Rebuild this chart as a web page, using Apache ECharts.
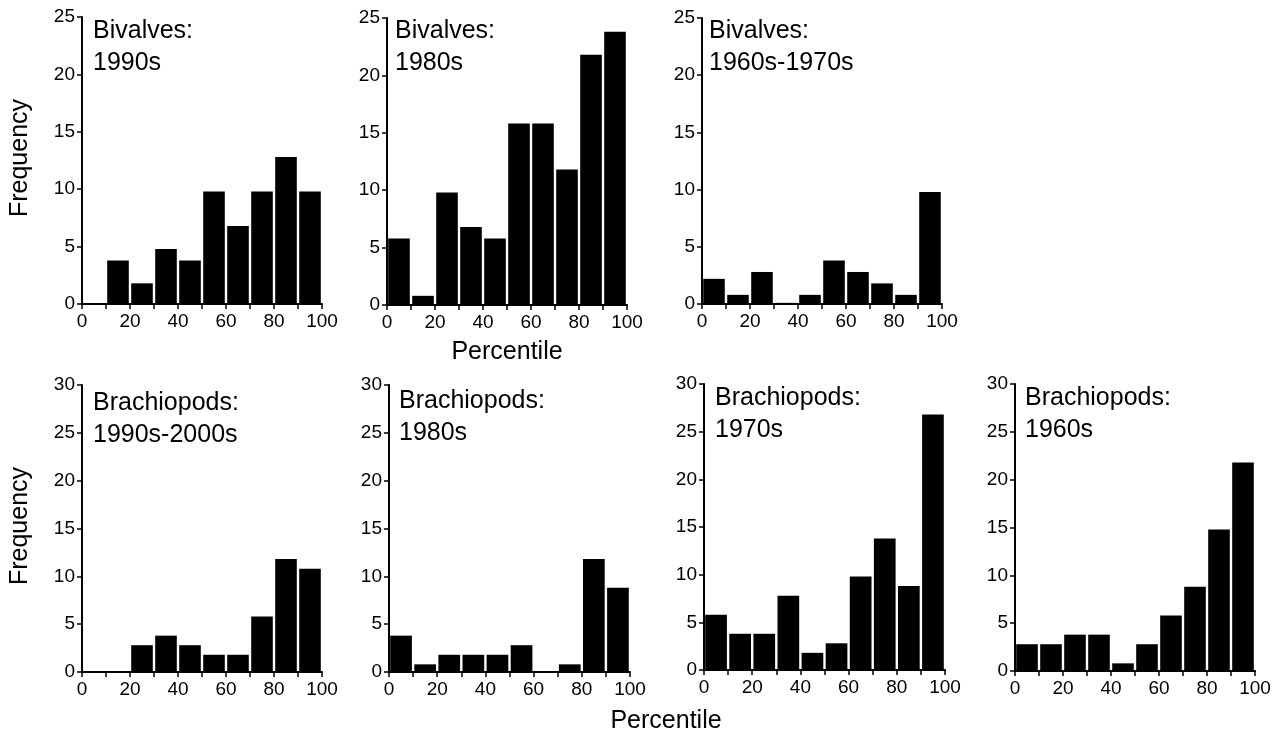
<!DOCTYPE html>
<html>
<head>
<meta charset="UTF-8">
<title>Percentile histograms</title>
<script src="https://cdn.jsdelivr.net/npm/echarts@6/dist/echarts.min.js"></script>
<style>
  html, body { margin: 0; padding: 0; background: #fff; }
</style>
</head>
<body>
<div id="main" style="width:1279px; height:738px;"></div>
<script type="text/javascript">
// bin edges (percentile), 10-wide bins
var binEdges = [0, 10, 20, 30, 40, 50, 60, 70, 80, 90, 100];

// frequencies per bin
var bivalves1990s    = [0, 3.8, 1.8, 4.8, 3.8, 9.8, 6.8, 9.8, 12.8, 9.8];
var bivalves1980s    = [5.8, 0.8, 9.8, 6.8, 5.8, 15.8, 15.8, 11.8, 21.8, 23.8];
var bivalves1960s70s = [2.2, 0.8, 2.8, 0.1, 0.8, 3.8, 2.8, 1.8, 0.8, 9.8];
var brach1990s2000s  = [0, 0, 2.8, 3.8, 2.8, 1.8, 1.8, 5.8, 11.8, 10.8];
var brach1980s       = [3.8, 0.8, 1.8, 1.8, 1.8, 2.8, 0.1, 0.8, 11.8, 8.8];
var brach1970s       = [5.8, 3.8, 3.8, 7.8, 1.8, 2.8, 9.8, 13.8, 8.8, 26.8];
var brach1960s       = [2.8, 2.8, 3.8, 3.8, 0.8, 2.8, 5.8, 8.8, 14.8, 21.8];

var panels = [
  { label: 'Bivalves:\n1990s',           vals: bivalves1990s,    ymax: 25, grid: [82, 17, 240, 287],   tx: 93,   ty: 15 },
  { label: 'Bivalves:\n1980s',           vals: bivalves1980s,    ymax: 25, grid: [387, 18, 240, 287],  tx: 395,  ty: 15 },
  { label: 'Bivalves:\n1960s-1970s',     vals: bivalves1960s70s, ymax: 25, grid: [702, 18, 240, 286],  tx: 709,  ty: 15 },
  { label: 'Brachiopods:\n1990s-2000s',  vals: brach1990s2000s,  ymax: 30, grid: [82, 385, 240, 287],  tx: 93,   ty: 387 },
  { label: 'Brachiopods:\n1980s',        vals: brach1980s,       ymax: 30, grid: [389, 385, 241, 287], tx: 399,  ty: 385 },
  { label: 'Brachiopods:\n1970s',        vals: brach1970s,       ymax: 30, grid: [704, 384, 241, 286], tx: 715,  ty: 382 },
  { label: 'Brachiopods:\n1960s',        vals: brach1960s,       ymax: 30, grid: [1015, 384, 240, 287],tx: 1025, ty: 382 }
];

var FONT = 'Liberation Sans, Arial, sans-serif';

var grids = [], xAxes = [], yAxes = [], series = [], titles = [];

panels.forEach(function (p, i) {
  grids.push({ left: p.grid[0], top: p.grid[1], width: p.grid[2], height: p.grid[3] });
  xAxes.push({
    type: 'value', gridIndex: i, min: 0, max: 100, interval: 10,
    splitLine: { show: false },
    axisLine: { show: true, onZero: false, lineStyle: { color: '#000', width: 2 } },
    axisTick: { show: true, length: 5, lineStyle: { color: '#000', width: 1.5 } },
    axisLabel: {
      color: '#000', fontSize: 19, fontFamily: FONT, margin: 8, showMaxLabel: true, showMinLabel: true,
      formatter: function (v) { return v % 20 === 0 ? String(v) : ''; }
    }
  });
  yAxes.push({
    type: 'value', gridIndex: i, min: 0, max: p.ymax, interval: 5,
    splitLine: { show: false },
    axisLine: { show: true, lineStyle: { color: '#000', width: 2 } },
    axisTick: { show: true, length: 5, lineStyle: { color: '#000', width: 1.5 } },
    axisLabel: { color: '#000', fontSize: 19, fontFamily: FONT, margin: 7 }
  });
  var data = p.vals.map(function (v, k) { return [binEdges[k], binEdges[k + 1], v]; });
  series.push({
    type: 'custom', xAxisIndex: i, yAxisIndex: i, data: data,
    encode: { x: [0, 1], y: 2 },
    renderItem: function (params, api) {
      var v = api.value(2);
      if (!v) return null;
      var a = api.coord([api.value(0), 0]);
      var b = api.coord([api.value(1), v]);
      return {
        type: 'rect', z2: 1,
        shape: { x: a[0] + 1.2, y: b[1], width: b[0] - a[0] - 2.4, height: a[1] - b[1] },
        style: { fill: '#000' }
      };
    }
  });
  titles.push({
    text: p.label, left: p.tx, top: p.ty, padding: 0,
    textStyle: { color: '#000', fontSize: 25, lineHeight: 32, fontWeight: 'normal', fontFamily: FONT }
  });
});

var myChart = echarts.init(document.getElementById('main'), null, { renderer: 'canvas' });

var option = {
  animation: false,
  backgroundColor: '#fff',
  title: titles,
  grid: grids,
  xAxis: xAxes,
  yAxis: yAxes,
  series: series,
  graphic: [
    { type: 'text', x: 20, y: 158, rotation: Math.PI / 2,
      style: { text: 'Frequency', fontSize: 25, fontFamily: FONT, fill: '#000', align: 'center', verticalAlign: 'middle' } },
    { type: 'text', x: 20, y: 526, rotation: Math.PI / 2,
      style: { text: 'Frequency', fontSize: 25, fontFamily: FONT, fill: '#000', align: 'center', verticalAlign: 'middle' } },
    { type: 'text', x: 507, y: 352,
      style: { text: 'Percentile', fontSize: 25, fontFamily: FONT, fill: '#000', align: 'center', verticalAlign: 'middle' } },
    { type: 'text', x: 666, y: 721,
      style: { text: 'Percentile', fontSize: 25, fontFamily: FONT, fill: '#000', align: 'center', verticalAlign: 'middle' } }
  ]
};

myChart.setOption(option);
</script>
</body>
</html>
